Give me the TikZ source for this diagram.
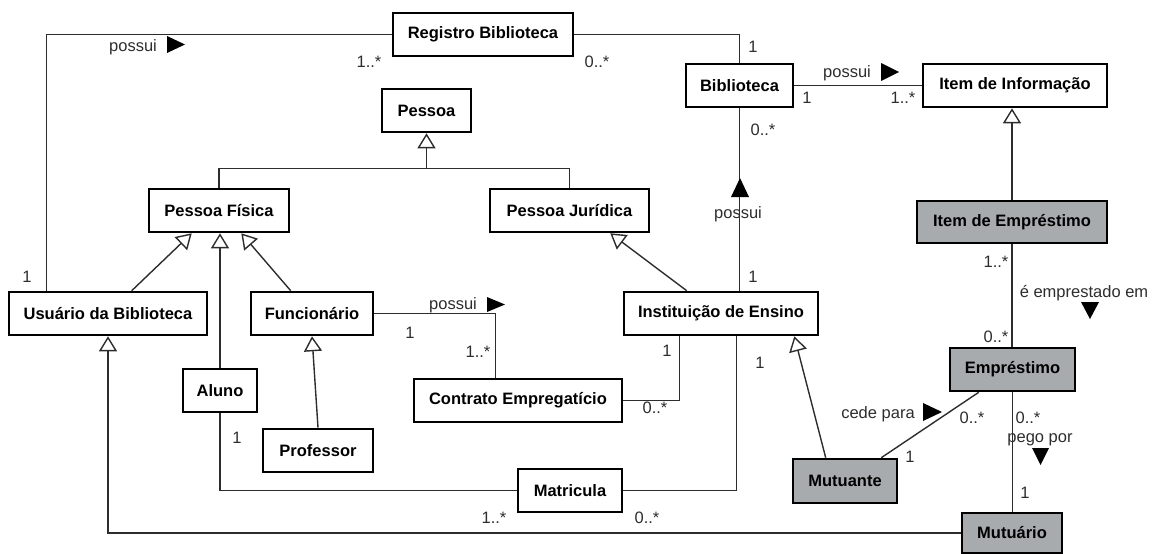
\documentclass[tikz,border=0pt]{standalone}
\usepackage{fontspec}
\setmainfont{Liberation Sans}
\usetikzlibrary{arrows.meta,calc}
\definecolor{loanfill}{RGB}{167,171,174}
\definecolor{linecol}{RGB}{45,45,45}

\begin{document}
\begin{tikzpicture}[x=1pt,y=-1pt,
  cls/.style={draw, line width=2.6pt, inner sep=0pt, fill=white,
    font=\fontsize{16.5}{19}\selectfont\bfseries},
  loan/.style={cls, fill=loanfill},
  assoc/.style={draw=linecol, line width=1.4pt},
  gen/.style={assoc, -{Triangle[open, width=18pt, length=15pt, line width=1.4pt]}},
  lbl/.style={font=\fontsize{16.5}{19}\selectfont, inner sep=0pt, text=linecol},
  dirmark/.style={fill=black}
]
\useasboundingbox (0,0) rectangle (1159,554);

% classes
\node[cls, minimum width=180pt, minimum height=43pt] (reg) at (483,34.5) {Registro Biblioteca};
\node[cls, minimum width=107pt, minimum height=43pt] (bib) at (739.5,85.5) {Biblioteca};
\node[cls, minimum width=184pt, minimum height=43pt] (item) at (1015,85.5) {Item de Informação};
\node[cls, minimum width=89pt, minimum height=43pt] (pessoa) at (426.5,110.5) {Pessoa};
\node[cls, minimum width=140pt, minimum height=43pt] (pf) at (219,210.5) {Pessoa Física};
\node[cls, minimum width=159pt, minimum height=43pt] (pj) at (569.5,210.5) {Pessoa Jurídica};
\node[loan, minimum width=190pt, minimum height=42pt] (itemEmp) at (1012,222) {Item de Empréstimo};
\node[cls, minimum width=198pt, minimum height=43pt] (usu) at (108,313.5) {Usuário da Biblioteca};
\node[cls, minimum width=122pt, minimum height=43pt] (func) at (312,313.5) {Funcionário};
\node[cls, minimum width=194pt, minimum height=43pt] (inst) at (721,313.5) {Instituição de Ensino};
\node[loan, minimum width=125pt, minimum height=43pt] (emp) at (1012.5,369.5) {Empréstimo};
\node[cls, minimum width=74pt, minimum height=43pt] (aluno) at (220,390.5) {Aluno};
\node[cls, minimum width=110pt, minimum height=43pt] (prof) at (318,450.5) {Professor};
\node[cls, minimum width=208pt, minimum height=43pt] (contrato) at (518,400.5) {Contrato Empregatício};
\node[cls, minimum width=104pt, minimum height=43pt] (matr) at (570,490.5) {Matricula};
\node[loan, minimum width=104pt, minimum height=44pt] (mutuante) at (845,481) {Mutuante};
\node[loan, minimum width=100pt, minimum height=40pt] (mutuario) at (1012,533) {Mutuário};

% associations
\draw[assoc] (reg.west) -| ([xshift=39pt]usu.north west);
\draw[assoc] (reg.east) -| (bib.north);
\draw[assoc] (bib.east) -- (item.west);
\draw[assoc] (bib.south) -- (bib.south |- inst.north);
\draw[assoc] (func.east) -| ([xshift=83pt]contrato.north west);
\draw[assoc] ([xshift=57pt]inst.south west) |- (contrato.east);
\draw[assoc] (aluno.south) |- (matr.west);
\draw[assoc] (matr.east) -| ([xshift=114pt]inst.south west);
\draw[assoc] (itemEmp.south) -- (itemEmp.south |- emp.north);
\draw[assoc] ([xshift=30pt]emp.south west) -- ([xshift=-17pt]mutuante.north east);
\draw[assoc] (emp.south) -- (emp.south |- mutuario.north);

% generalizations
\coordinate (tj) at ($(pessoa.south)+(0,35)$);
\draw[assoc] (pf.north) |- (tj) -| (pj.north);
\draw[gen] (tj) -- (pessoa.south);
\draw[gen] ([xshift=124pt]usu.north west) -- ([xshift=44pt]pf.south west);
\draw[gen] (aluno.north) -- (aluno.north |- pf.south);
\draw[gen] ([xshift=41pt]func.north west) -- ([xshift=-49pt]pf.south east);
\draw[gen] (mutuario.west) -| (usu.south);
\draw[gen] (prof.north) -- (func.south);
\draw[gen] ([xshift=64pt]inst.north west) -- ([xshift=-40pt]pj.south east);
\draw[gen] ([xshift=34pt]mutuante.north west) -- ([xshift=-25pt]inst.south east);
\draw[gen] (itemEmp.north) -- (itemEmp.north |- item.south);

% reading-direction markers
\fill[dirmark] (167,36) -- (185,44.5) -- (167,53) -- cycle;
\fill[dirmark] (881,63) -- (899,72) -- (881,81) -- cycle;
\fill[dirmark] (740,178) -- (749,197) -- (731,197) -- cycle;
\fill[dirmark] (487,297) -- (505,304.5) -- (487,312) -- cycle;
\fill[dirmark] (1081,302) -- (1099,302) -- (1090,319) -- cycle;
\fill[dirmark] (923,403) -- (942,412) -- (923,421) -- cycle;
\fill[dirmark] (1032,448) -- (1049,448) -- (1040.5,465) -- cycle;

% association names
\node[lbl] (l1) at (133,47) {possui};
\node[lbl] (l2) at (847,73) {possui};
\node[lbl] (l3) at (738,214) {possui};
\node[lbl] (l4) at (453,305) {possui};
\node[lbl] (l5) at (1084,293) {é emprestado em};
\node[lbl] (l6) at (878,414) {cede para};
\node[lbl] (l7) at (1040,440) {pego por};

% multiplicities
\node[lbl] (m1) at (369,62) {1..*};
\node[lbl] (m2) at (27,277) {1};
\node[lbl] (m3) at (597,62) {0..*};
\node[lbl] (m4) at (753,47) {1};
\node[lbl] (m5) at (807,98) {1};
\node[lbl] (m6) at (903,98) {1..*};
\node[lbl] (m7) at (763,130) {0..*};
\node[lbl] (m8) at (753,277) {1};
\node[lbl] (m9) at (410,333) {1};
\node[lbl] (m10) at (478,352) {1..*};
\node[lbl] (m11) at (667,351) {1};
\node[lbl] (m12) at (655,408) {0..*};
\node[lbl] (m13) at (237,438) {1};
\node[lbl] (m14) at (494,518) {1..*};
\node[lbl] (m15) at (647,518) {0..*};
\node[lbl] (m16) at (760,363) {1};
\node[lbl] (m17) at (996,262) {1..*};
\node[lbl] (m18) at (996,337) {0..*};
\node[lbl] (m19) at (972,418) {0..*};
\node[lbl] (m20) at (910,457) {1};
\node[lbl] (m21) at (1028,418) {0..*};
\node[lbl] (m22) at (1025,493) {1};
\end{tikzpicture}
\end{document}
